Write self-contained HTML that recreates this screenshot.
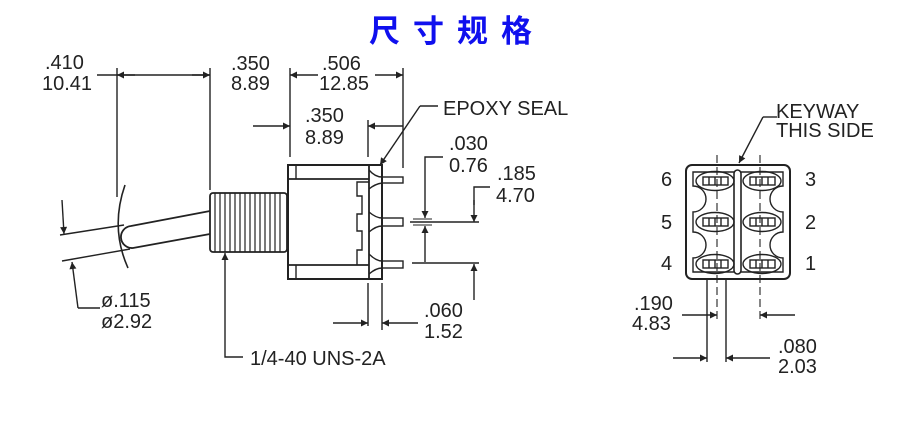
<!DOCTYPE html>
<html><head><meta charset="utf-8"><style>
html,body{margin:0;padding:0;background:#fff;}
svg{display:block;}
text{font-family:"Liberation Sans",sans-serif;fill:#222;}
</style></head><body>
<svg width="921" height="439" viewBox="0 0 921 439" xmlns="http://www.w3.org/2000/svg">
<defs>
<marker id="b" viewBox="0 0 10 10" refX="10" refY="5" markerWidth="16" markerHeight="7" orient="auto" markerUnits="userSpaceOnUse"><path d="M0,0 L10,5 L0,10 z" fill="#222"/></marker>
</defs>
<text x="457" y="42" text-anchor="middle" style="font-family:'Liberation Sans','Noto Sans CJK SC',sans-serif;font-weight:bold;font-size:31px;fill:#1010ee;letter-spacing:13px">尺寸规格</text>

<g stroke="#222" stroke-width="1.4" fill="none">
<line x1="97" y1="75" x2="117" y2="75"/>
<line x1="117" y1="75" x2="210" y2="75"/>
<line x1="135" y1="75" x2="117" y2="75" marker-end="url(#b)"/>
<line x1="192" y1="75" x2="210" y2="75" marker-end="url(#b)"/>
<line x1="117" y1="68" x2="117" y2="197"/>
<line x1="210" y1="68" x2="210" y2="190"/>
<line x1="290" y1="68" x2="290" y2="157"/>
<line x1="403" y1="68" x2="403" y2="168"/>
<line x1="318" y1="75" x2="290" y2="75" marker-end="url(#b)"/>
<line x1="375" y1="75" x2="403" y2="75" marker-end="url(#b)"/>
<line x1="253" y1="126" x2="290" y2="126" marker-end="url(#b)"/>
<line x1="403" y1="126" x2="368" y2="126" marker-end="url(#b)"/>
<line x1="368" y1="120" x2="368" y2="157"/>
<polyline points="438,106 420,106"/>
<line x1="420" y1="106" x2="380" y2="165" marker-end="url(#b)"/>
<rect x="288" y="165" width="94" height="114" stroke-width="2"/>
<line x1="288" y1="179" x2="369" y2="179" stroke-width="1.8"/>
<line x1="288" y1="265" x2="369" y2="265" stroke-width="1.8"/>
<line x1="296" y1="165" x2="296" y2="179"/>
<line x1="296" y1="265" x2="296" y2="279"/>
<line x1="369" y1="165" x2="369" y2="279" stroke-width="1.8"/>
<polyline points="369,182 357,182 357,196 362,196 362,214 357,214 357,231 362,231 362,250 357,250 357,265"/>
<path d="M369,170 Q375,177 382,177 M369,189 Q375,184 382,183 M369,212 Q376,218 382,218 M369,232 Q376,226 382,226 M369,254 Q376,261 382,261 M369,274 Q376,268 382,268"/>
<rect x="382" y="177" width="21" height="6"/>
<rect x="382" y="218" width="21" height="8"/>
<rect x="382" y="261" width="21" height="7"/>
<rect x="210" y="193" width="77" height="59" rx="3" stroke-width="1.8"/>
<g stroke-width="1.2">
<line x1="215" y1="193" x2="215" y2="252"/><line x1="220" y1="193" x2="220" y2="252"/><line x1="225" y1="193" x2="225" y2="252"/><line x1="230" y1="193" x2="230" y2="252"/><line x1="235" y1="193" x2="235" y2="252"/><line x1="240" y1="193" x2="240" y2="252"/><line x1="245" y1="193" x2="245" y2="252"/><line x1="250" y1="193" x2="250" y2="252"/><line x1="255" y1="193" x2="255" y2="252"/><line x1="260" y1="193" x2="260" y2="252"/><line x1="265" y1="193" x2="265" y2="252"/><line x1="270" y1="193" x2="270" y2="252"/><line x1="275" y1="193" x2="275" y2="252"/><line x1="280" y1="193" x2="280" y2="252"/>
</g>
<path d="M210,211 L131,226 A11,11 0 0 0 133,248 L210,234" stroke-width="1.8"/>
<path d="M125,185 Q110,228 128,268" stroke-width="1.6"/>
<line x1="60" y1="235" x2="124" y2="225"/>
<line x1="62" y1="261" x2="130" y2="249"/>
<line x1="62" y1="200" x2="64" y2="234" marker-end="url(#b)"/>
<polyline points="78,308 100,308"/>
<line x1="78" y1="308" x2="72" y2="262" marker-end="url(#b)"/>
<polyline points="243,357 225,357 225,270"/>
<line x1="225" y1="270" x2="225" y2="253" marker-end="url(#b)"/>
<polyline points="443,157 425,157 425,200"/>
<line x1="425" y1="200" x2="425" y2="218" marker-end="url(#b)"/>
<line x1="425" y1="262" x2="425" y2="226" marker-end="url(#b)"/>
<line x1="413" y1="219" x2="432" y2="219" stroke-width="0.9"/>
<line x1="413" y1="222" x2="432" y2="222" stroke-width="0.9"/>
<line x1="413" y1="225" x2="432" y2="225" stroke-width="0.9"/>
<polyline points="490,187 474,187 474,205"/>
<line x1="474" y1="200" x2="474" y2="222" marker-end="url(#b)"/>
<line x1="410" y1="222" x2="479" y2="222"/>
<line x1="412" y1="263" x2="479" y2="263"/>
<line x1="474" y1="300" x2="474" y2="264" marker-end="url(#b)"/>
<line x1="368" y1="283" x2="368" y2="326"/>
<line x1="382" y1="283" x2="382" y2="330"/>
<line x1="333" y1="323" x2="368" y2="323" marker-end="url(#b)"/>
<line x1="418" y1="323" x2="382" y2="323" marker-end="url(#b)"/>

<rect x="686" y="165" width="104" height="114" rx="6" stroke-width="2"/>
<path d="M693,172 L783,172 L783,186 A13,13 0 0 0 783,212 L783,232 A13,13 0 0 0 783,258 L783,272 L693,272 L693,258 A13,13 0 0 0 693,232 L693,212 A13,13 0 0 0 693,186 Z"/>
<rect x="734" y="170" width="7" height="104" rx="3.5" fill="#fff" stroke-width="1.6"/>
<g stroke-width="1.4">
<ellipse cx="715" cy="181" rx="19" ry="9.5"/><ellipse cx="762" cy="181" rx="19" ry="9.5"/>
<ellipse cx="715" cy="222" rx="19" ry="9.5"/><ellipse cx="762" cy="222" rx="19" ry="9.5"/>
<ellipse cx="715" cy="264" rx="19" ry="9.5"/><ellipse cx="762" cy="264" rx="19" ry="9.5"/>
<rect x="703" y="177" width="25" height="8"/><rect x="750" y="177" width="25" height="8"/>
<rect x="703" y="218" width="25" height="8"/><rect x="750" y="218" width="25" height="8"/>
<rect x="703" y="260" width="25" height="8"/><rect x="750" y="260" width="25" height="8"/>
<path d="M709,177v8M715,177v8M721,177v8M756,177v8M762,177v8M768,177v8M709,218v8M715,218v8M721,218v8M756,218v8M762,218v8M768,218v8M709,260v8M715,260v8M721,260v8M756,260v8M762,260v8M768,260v8"/>
</g>
<line x1="717" y1="155" x2="717" y2="320" stroke-dasharray="8,4" stroke-width="1.1"/>
<line x1="760" y1="155" x2="760" y2="320" stroke-dasharray="8,4" stroke-width="1.1"/>
<line x1="707" y1="278" x2="707" y2="362"/>
<line x1="726" y1="278" x2="726" y2="362"/>
<polyline points="777,117 763,117"/>
<line x1="763" y1="117" x2="739" y2="163" marker-end="url(#b)"/>
<line x1="682" y1="315" x2="717" y2="315" marker-end="url(#b)"/>
<line x1="795" y1="315" x2="760" y2="315" marker-end="url(#b)"/>
<line x1="673" y1="358" x2="707" y2="358" marker-end="url(#b)"/>
<line x1="770" y1="358" x2="726" y2="358" marker-end="url(#b)"/>
</g>

<g font-size="20">
<text x="45" y="69">.410</text><text x="42" y="90">10.41</text>
<text x="231" y="70">.350</text><text x="231" y="90">8.89</text>
<text x="322" y="70">.506</text><text x="319" y="90">12.85</text>
<text x="305" y="122">.350</text><text x="305" y="144">8.89</text>
<text x="443" y="115">EPOXY SEAL</text>
<text x="449" y="150">.030</text><text x="449" y="172">0.76</text>
<text x="497" y="180">.185</text><text x="496" y="202">4.70</text>
<text x="101" y="307">ø.115</text><text x="101" y="328">ø2.92</text>
<text x="250" y="365">1/4-40 UNS-2A</text>
<text x="424" y="317">.060</text><text x="424" y="338">1.52</text>
<text x="776" y="118">KEYWAY</text><text x="776" y="137">THIS SIDE</text>
<text x="661" y="186">6</text><text x="661" y="229">5</text><text x="661" y="270">4</text>
<text x="805" y="186">3</text><text x="805" y="229">2</text><text x="805" y="270">1</text>
<text x="634" y="310">.190</text><text x="632" y="330">4.83</text>
<text x="778" y="353">.080</text><text x="778" y="373">2.03</text>
</g>
</svg>
</body></html>
